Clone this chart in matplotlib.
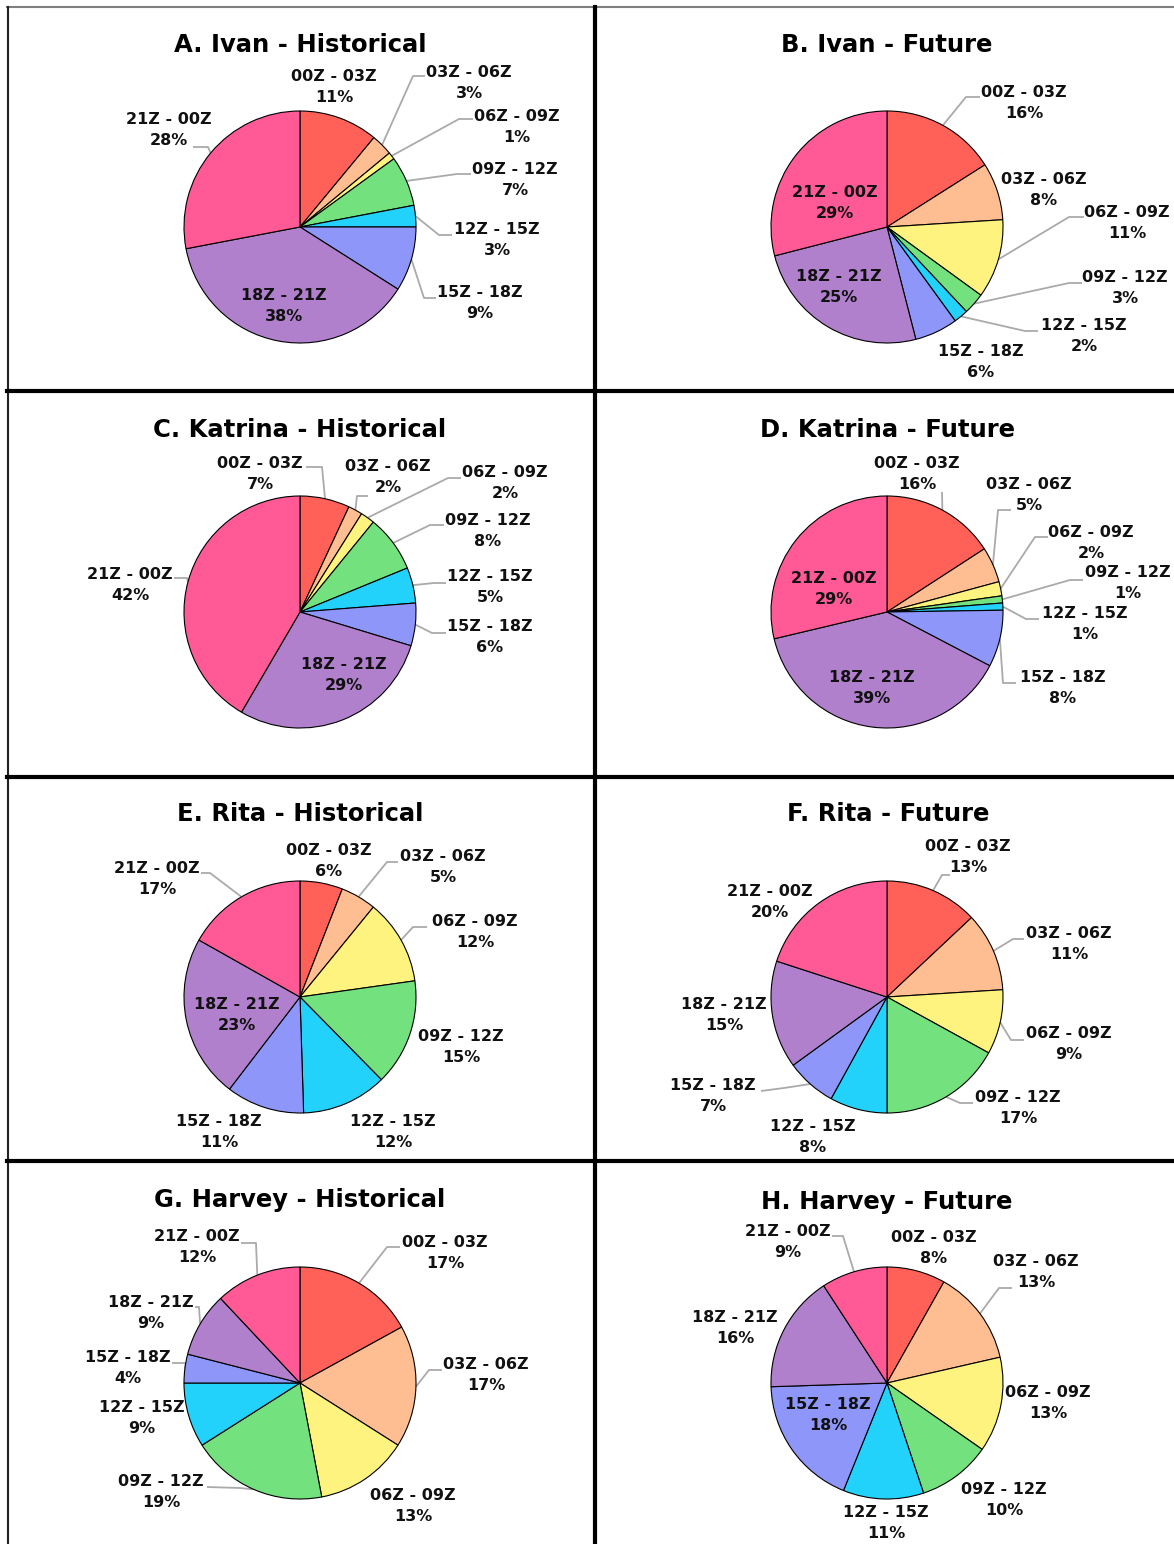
import numpy as np
import matplotlib
matplotlib.use("Agg")
import matplotlib.pyplot as plt

W, H = 1174, 1544

# ------------------------------------------------------------
# Data: share of landfall-window hours per 3-hour UTC slot
# ------------------------------------------------------------
slots = ['00Z - 03Z', '03Z - 06Z', '06Z - 09Z', '09Z - 12Z',
         '12Z - 15Z', '15Z - 18Z', '18Z - 21Z', '21Z - 00Z']

ivan_hist = [11, 3, 1, 7, 3, 9, 38, 28]
ivan_fut = [16, 8, 11, 3, 2, 6, 25, 29]
katrina_hist = [7, 2, 2, 8, 5, 6, 29, 42]
katrina_fut = [16, 5, 2, 1, 1, 8, 39, 29]
rita_hist = [6, 5, 12, 15, 12, 11, 23, 17]
rita_fut = [13, 11, 9, 17, 8, 7, 15, 20]
harvey_hist = [17, 17, 13, 19, 9, 4, 9, 12]
harvey_fut = [8, 13, 13, 10, 11, 18, 16, 9]

titles = ['A. Ivan - Historical', 'B. Ivan - Future',
          'C. Katrina - Historical', 'D. Katrina - Future',
          'E. Rita - Historical', 'F. Rita - Future',
          'G. Harvey - Historical', 'H. Harvey - Future']

slot_colors = ['#FF6159', '#FFBE91', '#FFF380', '#73E17D',
               '#23D2FA', '#8E96FA', '#B080CC', '#FF5A96']

# ------------------------------------------------------------
# Layout (pixels from top-left): pie centres, label blocks, leaders
# each label: (x, y of block centre, [leader points from text side] or None)
# ------------------------------------------------------------
RADIUS = 116
centers = [(300, 227), (887, 227), (300, 612), (887, 612),
           (300, 997), (887, 997), (300, 1383), (887, 1383)]
title_pos = [(300, 45), (887, 45), (300, 430), (888, 430),
             (300, 814), (888, 814), (300, 1200), (887, 1202)]

label_layout = [
    # A
    [(334, 87, None),
     (469, 83, [(425, 76), (413, 76)]),
     (517, 127, [(473, 119), (459, 119)]),
     (515, 180, [(471, 174), (457, 174)]),
     (497, 240, [(452, 235), (439, 235)]),
     (480, 303, [(436, 298), (424, 298)]),
     (284, 306, None),
     (169, 130, [(193, 147), (208, 147)])],
    # B
    [(1024, 103, [(980, 97), (966, 97)]),
     (1044, 190, None),
     (1127, 223, [(1084, 217), (1069, 217)]),
     (1125, 288, [(1082, 283), (1069, 283)]),
     (1084, 336, [(1038, 331), (1025, 331)]),
     (981, 362, None),
     (839, 287, None),
     (835, 203, None)],
    # C
    [(260, 474, [(306, 467), (322, 467)]),
     (388, 477, [(368, 496), (357, 496)]),
     (505, 483, [(461, 478), (448, 478)]),
     (488, 531, [(444, 525), (430, 525)]),
     (490, 587, [(446, 583), (434, 583)]),
     (490, 637, [(446, 633), (432, 633)]),
     (344, 675, None),
     (130, 585, [(174, 578), (187, 578)])],
    # D
    [(917, 474, [(942, 492)]),
     (1029, 495, [(1011, 510), (998, 510)]),
     (1091, 543, [(1048, 537), (1035, 537)]),
     (1128, 583, [(1083, 580), (1070, 580)]),
     (1085, 624, [(1039, 619), (1026, 619)]),
     (1063, 688, [(1016, 683), (1003, 683)]),
     (872, 688, None),
     (834, 589, None)],
    # E
    [(329, 861, None),
     (443, 867, [(398, 862), (387, 862)]),
     (475, 932, [(427, 927), (413, 927)]),
     (461, 1047, None),
     (393, 1132, None),
     (219, 1132, None),
     (237, 1015, None),
     (157, 879, [(201, 873), (210, 873)])],
    # F
    [(968, 857, [(950, 875), (942, 875)]),
     (1069, 944, [(1024, 939), (1013, 939)]),
     (1069, 1044, [(1024, 1040), (1011, 1040)]),
     (1018, 1108, [(973, 1103), (960, 1103)]),
     (813, 1137, None),
     (713, 1096, [(761, 1091), (784, 1088)]),
     (724, 1015, None),
     (770, 902, None)],
    # G
    [(445, 1253, [(400, 1247), (387, 1247)]),
     (486, 1375, [(442, 1370), (429, 1370)]),
     (413, 1506, None),
     (161, 1492, [(207, 1487), (240, 1488)]),
     (142, 1418, None),
     (128, 1368, [(172, 1363), (186, 1363)]),
     (151, 1313, [(195, 1307), (199, 1307)]),
     (197, 1247, [(241, 1243), (256, 1243)])],
    # H
    [(934, 1248, None),
     (1036, 1272, [(1012, 1288), (999, 1288)]),
     (1048, 1403, None),
     (1004, 1500, None),
     (886, 1523, None),
     (828, 1415, None),
     (735, 1328, None),
     (788, 1242, [(832, 1236), (843, 1236)])],
]

panel_values = [ivan_hist, ivan_fut, katrina_hist, katrina_fut,
                rita_hist, rita_fut, harvey_hist, harvey_fut]

LEADER_COLOR = '#AAAAAA'
LINE_GAP = 21
LABEL_SIZE = 11.5
TITLE_SIZE = 17.5


def Y(y):
    # flip pixel row to data y (origin at bottom)
    return H - y


fig = plt.figure(figsize=(W / 100, H / 100), dpi=100)
ax = fig.add_axes([0, 0, 1, 1])

for values, title, (cx, cy), (tx, ty), labels in zip(panel_values, titles, centers,
                                                      title_pos, label_layout):
    wedges, _ = ax.pie(values, colors=slot_colors, startangle=90, counterclock=False,
                       radius=RADIUS, center=(cx, Y(cy)), frame=True,
                       wedgeprops=dict(edgecolor='black', linewidth=0.8))

    ax.text(tx, Y(ty), title, ha='center', va='center', fontsize=TITLE_SIZE,
            fontweight='bold', color='black')

    for wedge, slot, val, (lx, ly, leader) in zip(wedges, slots, values, labels):
        ax.text(lx, Y(ly - LINE_GAP / 2), slot, ha='center', va='center',
                fontsize=LABEL_SIZE, fontweight='bold', color='#111111')
        ax.text(lx, Y(ly + LINE_GAP / 2), f'{val}%', ha='center', va='center',
                fontsize=LABEL_SIZE, fontweight='bold', color='#111111')
        if leader:
            # leader ends on the rim at the wedge's mid-angle
            mid = np.deg2rad((wedge.theta1 + wedge.theta2) / 2)
            rim_x = wedge.center[0] + wedge.r * np.cos(mid)
            rim_y = wedge.center[1] + wedge.r * np.sin(mid)
            xs = [p[0] for p in leader] + [rim_x]
            ys = [Y(p[1]) for p in leader] + [rim_y]
            ax.plot(xs, ys, color=LEADER_COLOR, linewidth=1.3, zorder=0.5,
                    solid_capstyle='butt')

# panel frame
ax.plot([7, W], [Y(7), Y(7)], color='#7F7F7F', linewidth=1.5)
ax.plot([7.5, 7.5], [Y(7), 0], color='#222222', linewidth=1.5)
ax.plot([594.5, 594.5], [Y(7), 0], color='black', linewidth=3)
for hy in [391, 777, 1161]:
    ax.plot([7, W], [Y(hy), Y(hy)], color='black', linewidth=3)

ax.set_xlim(0, W)
ax.set_ylim(0, H)
ax.set_aspect('equal')
ax.set_axis_off()

fig.savefig('out.png', dpi=100, facecolor='white')
